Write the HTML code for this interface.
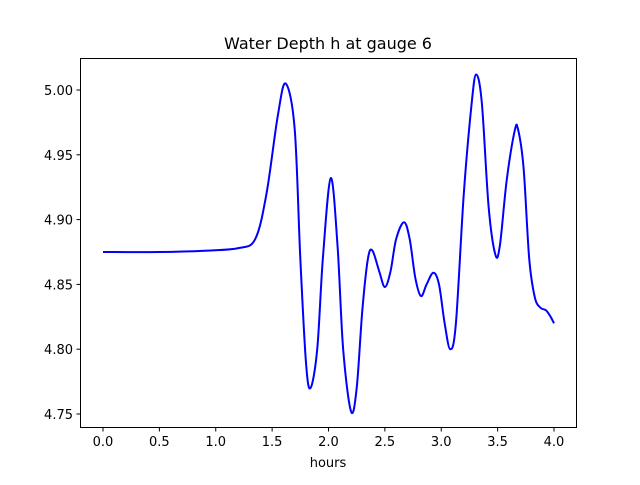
<!DOCTYPE html>
<html><head><meta charset="utf-8"><style>
body{margin:0;background:#fff;font-family:"Liberation Sans","DejaVu Sans",sans-serif;}
text{font-family:"DejaVu Sans","Liberation Sans",sans-serif;}
</style></head><body>
<svg id="chart" width="640" height="480" xmlns="http://www.w3.org/2000/svg">
<rect width="640" height="480" fill="#fff"/>
<text x="328" y="49" font-size="16" text-anchor="middle">Water Depth h at gauge 6</text>
<g id="ticks"></g>
<path id="series" fill="none" stroke="#0000ff" stroke-width="2"/>
<rect x="80.5" y="58.5" width="496" height="369" fill="none" stroke="#000" stroke-width="1"/>
<text x="328" y="467" font-size="13" text-anchor="middle">hours</text>
</svg>
<script>
const hours=[0,0.5,0.9,1.2,1.35,1.45,1.55,1.62,1.7,1.75,1.8,1.84,1.9,1.95,2.02,2.08,2.13,2.2,2.25,2.3,2.35,2.39,2.45,2.5,2.55,2.6,2.67,2.72,2.77,2.82,2.87,2.93,2.98,3.03,3.08,3.13,3.2,3.27,3.31,3.36,3.42,3.48,3.52,3.58,3.65,3.68,3.73,3.78,3.83,3.88,3.93,3.97,4.0];
const depth=[4.875,4.875,4.876,4.878,4.885,4.92,4.98,5.005,4.97,4.87,4.79,4.77,4.80,4.87,4.932,4.88,4.80,4.752,4.77,4.83,4.87,4.876,4.86,4.848,4.86,4.885,4.898,4.885,4.855,4.841,4.85,4.859,4.85,4.82,4.80,4.82,4.92,4.99,5.012,4.99,4.91,4.873,4.88,4.93,4.968,4.97,4.94,4.87,4.84,4.832,4.83,4.825,4.82];
const xTicks=[0,0.5,1,1.5,2,2.5,3,3.5,4];
const xTickLabels=["0.0","0.5","1.0","1.5","2.0","2.5","3.0","3.5","4.0"];
const yTicks=[4.75,4.80,4.85,4.90,4.95,5.00];
const yTickLabels=["4.75","4.80","4.85","4.90","4.95","5.00"];
const X=t=>103+t*112.75;
const Y=v=>90+(5.00-v)*1296;
const ns="http://www.w3.org/2000/svg";
const g=document.getElementById('ticks');
xTicks.forEach((t,i)=>{
  const l=document.createElementNS(ns,'line');
  
  
  l.setAttribute('x1',X(t));l.setAttribute('x2',X(t));l.setAttribute('y1',427.5);l.setAttribute('y2',431.5);l.setAttribute('stroke','#000');
  g.appendChild(l);
  const tx=document.createElementNS(ns,'text');
  
  
  tx.setAttribute('x',X(t));tx.setAttribute('y',446);tx.setAttribute('font-size','13');tx.setAttribute('text-anchor','middle');
  tx.textContent=xTickLabels[i];g.appendChild(tx);
});
yTicks.forEach((v,i)=>{
  const l=document.createElementNS(ns,'line');
  
  
  l.setAttribute('x1',76.5);l.setAttribute('x2',80.5);l.setAttribute('y1',Y(v));l.setAttribute('y2',Y(v));l.setAttribute('stroke','#000');
  g.appendChild(l);
  const tx=document.createElementNS(ns,'text');
  
  
  tx.setAttribute('x',73);tx.setAttribute('y',Y(v)+5);tx.setAttribute('font-size','13');tx.setAttribute('text-anchor','end');
  tx.textContent=yTickLabels[i];g.appendChild(tx);
});
const P=hours.map((t,i)=>[X(t),Y(depth[i])]);
let d='M'+P[0][0]+','+P[0][1];
for(let i=0;i<P.length-1;i++){
  const p0=P[Math.max(0,i-1)],p1=P[i],p2=P[i+1],p3=P[Math.min(P.length-1,i+2)];
  const c1=[p1[0]+(p2[0]-p0[0])/6,p1[1]+(p2[1]-p0[1])/6];
  const c2=[p2[0]-(p3[0]-p1[0])/6,p2[1]-(p3[1]-p1[1])/6];
  d+=' C'+c1+' '+c2+' '+p2;
}
document.getElementById('series').setAttribute('d',d);
</script>
</body></html>
